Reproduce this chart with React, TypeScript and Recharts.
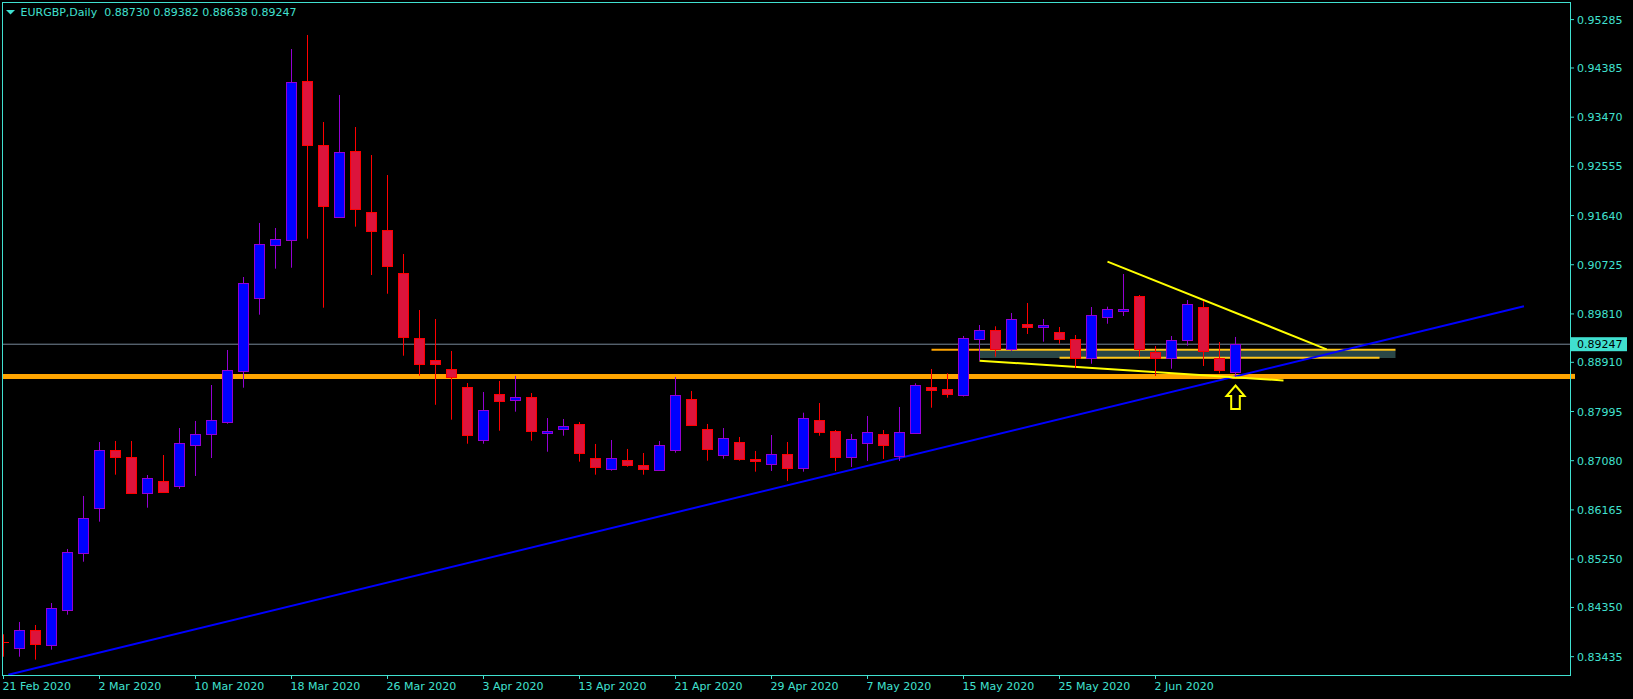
import React from 'react';
import { ComposedChart, Bar, XAxis, YAxis, ReferenceLine, ReferenceArea, ReferenceDot } from 'recharts';

const opens = [0.83702,0.83591,0.83925,0.83658,0.84309,0.85369,0.86195,0.87274,0.87143,0.86485,0.86697,0.86615,0.87378,0.87582,0.87806,0.88754,0.90101,0.91087,0.91180,0.94137,0.92947,0.91619,0.92835,0.91701,0.91366,0.90566,0.89357,0.88948,0.88780,0.88445,0.87460,0.88315,0.88204,0.88259,0.87590,0.87664,0.87757,0.87130,0.86920,0.87093,0.87000,0.86902,0.87274,0.88222,0.87664,0.87181,0.87422,0.87112,0.87024,0.87199,0.86950,0.87832,0.87627,0.87140,0.87415,0.87571,0.87173,0.87590,0.88445,0.88408,0.88297,0.89349,0.89506,0.89152,0.89617,0.89562,0.89469,0.89338,0.88996,0.89747,0.89870,0.90138,0.89097,0.88985,0.89320,0.89934,0.88985,0.88730];
const highs = [0.83851,0.84080,0.84024,0.84433,0.85438,0.86424,0.87428,0.87447,0.87447,0.86814,0.87186,0.87688,0.87819,0.88488,0.89139,0.90497,0.91502,0.91409,0.94738,0.94999,0.93380,0.93883,0.93287,0.92766,0.92394,0.90925,0.89883,0.89716,0.89121,0.88525,0.88358,0.88563,0.88656,0.88339,0.87874,0.87856,0.87800,0.87391,0.87465,0.87298,0.87223,0.87447,0.88637,0.88377,0.87763,0.87688,0.87521,0.87261,0.87558,0.87428,0.87973,0.88153,0.87651,0.87577,0.87912,0.87651,0.88079,0.88520,0.88786,0.88706,0.89400,0.89604,0.89580,0.89828,0.90014,0.89716,0.89567,0.89418,0.89939,0.89945,0.90553,0.90162,0.89214,0.89400,0.90069,0.90051,0.89288,0.89382];
const lows = [0.83434,0.83434,0.83379,0.83565,0.84216,0.85201,0.85946,0.86820,0.86480,0.86206,0.86479,0.86554,0.86796,0.87130,0.87768,0.88438,0.89796,0.90652,0.90670,0.91210,0.89926,0.91608,0.91433,0.90534,0.90186,0.89033,0.88661,0.88120,0.87843,0.87396,0.87396,0.87638,0.87992,0.87452,0.87247,0.87545,0.87062,0.86820,0.86894,0.86968,0.86820,0.86900,0.87229,0.87731,0.87080,0.87117,0.87080,0.86876,0.86889,0.86703,0.86876,0.87545,0.86889,0.86963,0.87075,0.87112,0.87075,0.87577,0.88066,0.88252,0.88274,0.88940,0.89015,0.89121,0.89437,0.89294,0.89256,0.88804,0.88884,0.89628,0.89772,0.89015,0.88656,0.88791,0.89219,0.88842,0.88706,0.88638];
const closes = [0.83700,0.83925,0.83676,0.84335,0.85376,0.86009,0.87274,0.87155,0.86485,0.86753,0.86504,0.87404,0.87571,0.87832,0.88762,0.90380,0.91105,0.91198,0.94119,0.92958,0.91823,0.92817,0.91768,0.91347,0.90707,0.89376,0.88870,0.88884,0.88646,0.87564,0.88018,0.88196,0.88259,0.87638,0.87627,0.87720,0.87229,0.86968,0.87125,0.87006,0.86931,0.87367,0.88297,0.87750,0.87292,0.87497,0.87106,0.87080,0.87199,0.86950,0.87869,0.87620,0.87155,0.87478,0.87608,0.87363,0.87608,0.88483,0.88401,0.88330,0.89357,0.89506,0.89152,0.89710,0.89573,0.89599,0.89338,0.88996,0.89785,0.89896,0.89896,0.89152,0.88985,0.89320,0.89989,0.89126,0.88762,0.89247];

const dateTickIndex = [0, 6, 12, 18, 24, 30, 36, 42, 48, 54, 60, 66, 72];
const dateTickLabels = ['21 Feb 2020', '2 Mar 2020', '10 Mar 2020', '18 Mar 2020', '26 Mar 2020', '3 Apr 2020', '13 Apr 2020', '21 Apr 2020', '29 Apr 2020', '7 May 2020', '15 May 2020', '25 May 2020', '2 Jun 2020'];
const priceTicks = [0.95285, 0.94385, 0.93470, 0.92555, 0.91640, 0.90725, 0.89810, 0.88910, 0.87995, 0.87080, 0.86165, 0.85250, 0.84350, 0.83435];

const symbolLabel = 'EURGBP,Daily';
const lastOHLC = [0.88730, 0.89382, 0.88638, 0.89247];
const lastPrice = 0.89247;
const supportLevel = 0.88648;
const blueTrend = [{ x: 0.3, y: 0.83100 }, { x: 95.03, y: 0.89952 }];
const yellowUpper = [{ x: 69, y: 0.90782 }, { x: 82.7, y: 0.89152 }];
const yellowLower = [{ x: 61, y: 0.88940 }, { x: 80, y: 0.88572 }];
const zoneX = [61, 87];
const zoneY = [0.88990, 0.89134];
const zoneTopLevel = 0.89145;
const zoneTopStart = 58;
const zoneBottomLevel = 0.88994;
const zoneBottomX = [66, 86];
const arrowPoint = { x: 77, y: 0.88479 };

const xDomain = [-0.09375, 97.90625];
const yDomain = [0.830938, 0.956124];

const AXIS = '#40E0D0';
const BULL_FILL = '#0000FF';
const BULL_LINE = '#9400D3';
const BEAR_FILL = '#DC143C';
const BEAR_LINE = '#FF0000';
const FONT = 'DejaVu Sans';

const data = opens.map((o, i) => ({
  i,
  open: o,
  high: highs[i],
  low: lows[i],
  close: closes[i],
  range: [lows[i], highs[i]],
}));

const Candle = (props: any) => {
  const { x, y, width, height, payload } = props;
  if (x == null || !payload) return null;
  const { open, close, high, low } = payload;
  const top = Math.min(y, y + height);
  const h = Math.abs(height);
  const ppu = high > low ? h / (high - low) : 0;
  const py = (v: number) => top + (high - v) * ppu;
  const cx = Math.floor(x + width / 2) + 0.5;
  const bull = close >= open;
  const fill = bull ? BULL_FILL : BEAR_FILL;
  const line = bull ? BULL_LINE : BEAR_LINE;
  const bt = Math.round(py(Math.max(open, close)));
  const bb = Math.round(py(Math.min(open, close)));
  return (
    <g>
      <line x1={cx} x2={cx} y1={py(high)} y2={py(low)} stroke={line} strokeWidth={1} />
      {bb - bt < 1 ? (
        <line x1={cx - 5.5} x2={cx + 5.5} y1={bt + 0.5} y2={bt + 0.5} stroke={line} strokeWidth={1} />
      ) : (
        <rect x={cx - 5} y={bt + 0.5} width={10} height={bb - bt} fill={fill} stroke={line} strokeWidth={1} />
      )}
    </g>
  );
};

const DateTick = (props: any) => {
  const { x, y, payload } = props;
  const idx = dateTickIndex.indexOf(payload.value);
  return (
    <text x={x - 1} y={y + 9} fill={AXIS} fontSize={11} fontFamily={FONT} textAnchor="start">
      {idx >= 0 ? dateTickLabels[idx] : ''}
    </text>
  );
};

const PriceTick = (props: any) => {
  const { x, y, payload } = props;
  return (
    <text x={x} y={y + 4} fill={AXIS} fontSize={11} fontFamily={FONT} textAnchor="start">
      {Number(payload.value).toFixed(5)}
    </text>
  );
};

const PriceTag = (props: any) => {
  const vb = props.viewBox || {};
  const right = (vb.x || 0) + (vb.width || 0);
  return (
    <g>
      <rect x={right + 1} y={vb.y - 7} width={56} height={14} fill={AXIS} />
      <text x={right + 7} y={vb.y + 4} fill="#000000" fontSize={11} fontFamily={FONT}>
        {lastPrice.toFixed(5)}
      </text>
    </g>
  );
};

const SupportTag = (props: any) => {
  const vb = props.viewBox || {};
  const right = (vb.x || 0) + (vb.width || 0);
  return <rect x={right} y={vb.y - 2.5} width={5} height={5} fill="#FFA500" />;
};

const Arrow = (props: any) => {
  const { cx, cy } = props;
  if (cx == null) return null;
  const d = `M ${cx} ${cy} L ${cx + 9} ${cy + 10.5} L ${cx + 4.3} ${cy + 10.5} L ${cx + 4.3} ${cy + 23.5} L ${cx - 4.3} ${cy + 23.5} L ${cx - 4.3} ${cy + 10.5} L ${cx - 9} ${cy + 10.5} Z`;
  return <path d={d} fill="none" stroke="#FFFF00" strokeWidth={2} strokeLinejoin="miter" />;
};

export default function App() {
  const refZ: any = { zIndex: 100 };
  const barZ: any = { zIndex: 700 };
  const dotZ: any = { zIndex: 800 };
  return (
    <div style={{ position: 'absolute', left: 0, top: 0, width: 1633, height: 699, background: '#000000', overflow: 'hidden' }}>
      <ComposedChart
        width={1633}
        height={699}
        data={data}
        margin={{ top: 2, right: 0, left: 2, bottom: 0 }}
        style={{ background: '#000000' }}
      >
        <XAxis
          dataKey="i"
          type="number"
          domain={xDomain}
          allowDataOverflow
          ticks={dateTickIndex}
          interval={0}
          height={24}
          axisLine={false}
          tickLine={{ stroke: AXIS }}
          tickSize={4}
          tickMargin={2}
          tick={<DateTick />}
        />
        <YAxis
          orientation="right"
          type="number"
          domain={yDomain}
          allowDataOverflow
          ticks={priceTicks}
          interval={0}
          width={63}
          axisLine={false}
          tickLine={{ stroke: AXIS }}
          tickSize={4}
          tickMargin={3}
          tick={<PriceTick />}
        />
        <ReferenceArea {...refZ} x1={zoneX[0]} x2={zoneX[1]} y1={zoneY[0]} y2={zoneY[1]} fill="#2F4F4F" fillOpacity={0.9} stroke="none" ifOverflow="visible" />
        <ReferenceLine {...refZ} y={lastPrice} stroke="#778899" strokeWidth={1} label={(p: any) => <PriceTag {...p} />} />
        <ReferenceLine {...refZ} y={supportLevel} stroke="#FFA500" strokeWidth={5} label={(p: any) => <SupportTag {...p} />} />
        <ReferenceLine {...refZ} segment={[{ x: zoneTopStart, y: zoneTopLevel }, { x: zoneX[0], y: zoneTopLevel }]} stroke="#FFA500" strokeWidth={2} ifOverflow="visible" />
        <ReferenceLine {...refZ} segment={[{ x: zoneX[0], y: zoneTopLevel }, { x: zoneX[1], y: zoneTopLevel }]} stroke="#FFC61A" strokeWidth={2} ifOverflow="visible" />
        <ReferenceLine {...refZ} segment={[{ x: zoneBottomX[0], y: zoneBottomLevel }, { x: zoneBottomX[1], y: zoneBottomLevel }]} stroke="#FFC61A" strokeWidth={2} ifOverflow="visible" />
        <ReferenceLine {...refZ} segment={blueTrend} stroke="#0000FF" strokeWidth={2} ifOverflow="visible" />
        <ReferenceLine {...refZ} segment={yellowUpper} stroke="#FFFF00" strokeWidth={2} ifOverflow="visible" />
        <ReferenceLine {...refZ} segment={yellowLower} stroke="#FFFF00" strokeWidth={2} ifOverflow="visible" />
        <Bar {...barZ} dataKey="range" barSize={11} shape={<Candle />} isAnimationActive={false} />
        <ReferenceDot {...dotZ} x={arrowPoint.x} y={arrowPoint.y} r={1} shape={<Arrow />} ifOverflow="visible" />
      </ComposedChart>
      <div style={{ position: 'absolute', left: 2, top: 2, width: 1569, height: 674, boxSizing: 'border-box', border: `1px solid ${AXIS}`, pointerEvents: 'none' }} />
      <svg style={{ position: 'absolute', left: 0, top: 0 }} width={420} height={24}>
        <polygon points="6,10 15,10 10.5,14.5" fill={AXIS} />
        <text x={20.5} y={16} fill={AXIS} fontSize={11} fontFamily={FONT} style={{ whiteSpace: 'pre' }}>
          {`${symbolLabel}  ${lastOHLC.map((v) => v.toFixed(5)).join(' ')}`}
        </text>
      </svg>
    </div>
  );
}
